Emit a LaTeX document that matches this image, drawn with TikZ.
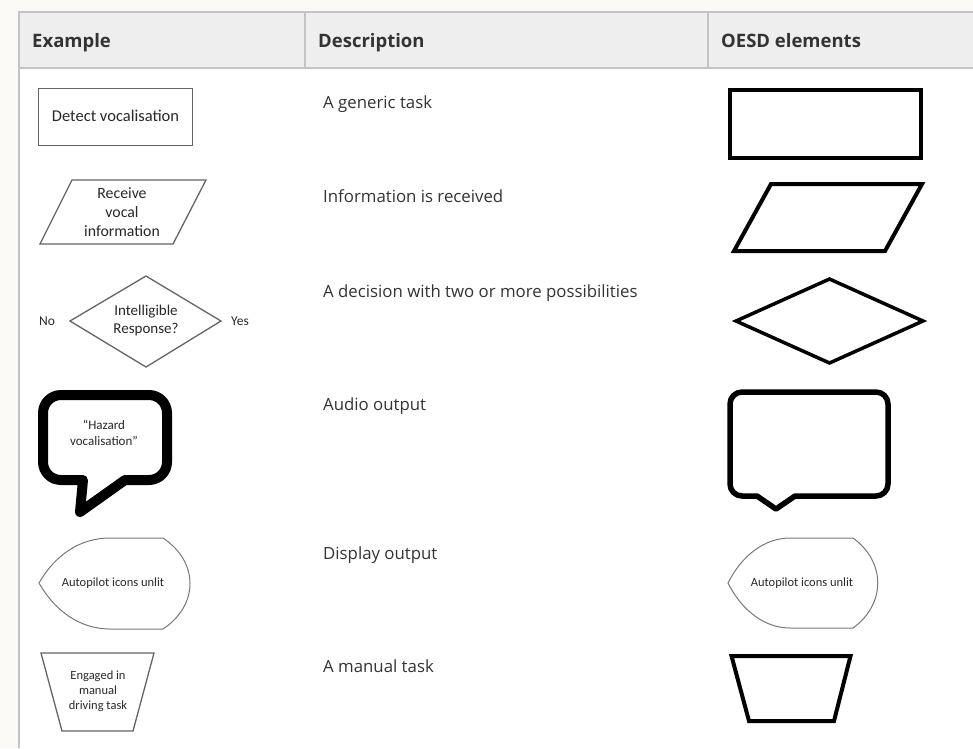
\documentclass[tikz,border=0pt]{standalone}
\usepackage{fontspec}
\setmainfont{Open Sans}
\newfontfamily\shapefont{Carlito}
\definecolor{pagebg}{RGB}{250,249,245}
\definecolor{headbg}{RGB}{238,238,238}
\definecolor{rule}{RGB}{196,196,196}
\definecolor{txt}{RGB}{51,51,51}
\definecolor{shapetxt}{RGB}{40,40,40}
\definecolor{egline}{RGB}{100,100,100}
\definecolor{displine}{RGB}{120,120,120}
\begin{document}
\begin{tikzpicture}[x=1pt,y=-1pt,
  head/.style={anchor=base west,inner sep=0,text=txt,font=\fontsize{18.5}{22}\selectfont\bfseries},
  desc/.style={anchor=base west,inner sep=0,text=txt,font=\fontsize{16.8}{20}\selectfont},
  egshape/.style={draw=egline,line width=1.3pt,line join=miter},
  egtext/.style={inner sep=0,text=shapetxt,align=center,font=\shapefont\fontsize{15.8}{19}\selectfont},
  smalltext/.style={inner sep=0,text=shapetxt,align=center,font=\shapefont\fontsize{12.5}{15}\selectfont},
  oesd/.style={draw=black,line width=4pt,line join=miter},
  bubble/.style={draw=black,line join=round},
  display/.style={draw=displine,line width=1pt}]
\useasboundingbox (0,0) rectangle (973,748);

% page and table frame
\fill[pagebg] (0,0) rectangle (973,748);
\fill[white] (19,12) rectangle (973,748);
\fill[headbg] (19,12) rectangle (973,68);
\draw[rule,line width=1.5pt] (973,12) -- (19,12) -- (19,748);
\draw[rule,line width=1.5pt] (19,68) -- (973,68);
\draw[rule,line width=1.5pt] (305,12) -- (305,68);
\draw[rule,line width=1.5pt] (708,12) -- (708,68);

% header
\node[head] (hex)  at (32,47)  {Example};
\node[head] (hdesc) at (318,47) {Description};
\node[head] (hoesd) at (721,47) {OESD elements};

% descriptions
\node[desc] (d1) at (323,108) {A generic task};
\node[desc] (d2) at (323,202) {Information is received};
\node[desc] (d3) at (323,297) {A decision with two or more possibilities};
\node[desc] (d4) at (323,410) {Audio output};
\node[desc] (d5) at (323,559) {Display output};
\node[desc] (d6) at (323,672) {A manual task};

% example column
\draw[egshape] (38.5,88.5) rectangle (192.5,145.5);
\node[egtext,font=\shapefont\fontsize{16.5}{19}\selectfont] (t1) at (115.5,116) {Detect vocalisation};

\draw[egshape] (72,180) -- (206,180) -- (173,244) -- (40,244) -- cycle;
\node[egtext] (t2) at (122,212) {Receive\\vocal\\information};

\draw[egshape] (70,321) -- (146,276) -- (221,321) -- (146,367) -- cycle;
\node[egtext,font=\shapefont\fontsize{15}{18}\selectfont] (t3) at (146,320) {Intelligible\\Response?};
\node[egtext,font=\shapefont\fontsize{13.5}{16}\selectfont] (no) at (47,321) {No};
\node[egtext,font=\shapefont\fontsize{13.5}{16}\selectfont] (yes) at (240,321) {Yes};

\draw[bubble,line width=10pt] (83,480) -- (61,480)
  arc[start angle=90,end angle=180,radius=18] -- (43,413)
  arc[start angle=180,end angle=270,radius=18] -- (149,395)
  arc[start angle=270,end angle=360,radius=18] -- (167,462)
  arc[start angle=0,end angle=90,radius=18] -- (125,480) -- (80,512) -- cycle;
\node[egtext,font=\shapefont\fontsize{13}{16}\selectfont] (t4) at (104,433) {“Hazard\\vocalisation”};

\draw[display] (39,583) .. controls (55,555) and (80,538) .. (110,538) -- (163,538)
  .. controls (199,562) and (199,605) .. (163,629) -- (110,629)
  .. controls (80,629) and (55,611) .. (39,583) -- cycle;
\node[smalltext] (t5) at (113,583) {Autopilot icons unlit};

\draw[egshape] (41,653) -- (154,653) -- (133,731) -- (62,731) -- cycle;
\node[smalltext] (t6) at (98,691) {Engaged in\\manual\\driving task};

% OESD column
\draw[oesd] (730,90) rectangle (921,158);
\draw[oesd] (771,184) -- (922,184) -- (885,251) -- (734,251) -- cycle;
\draw[oesd,line width=3.5pt] (736,321) -- (829.5,279) -- (923,321) -- (829.5,363) -- cycle;
\draw[bubble,line width=5.5pt] (757,496) -- (742,496)
  arc[start angle=90,end angle=180,radius=12] -- (730,404)
  arc[start angle=180,end angle=270,radius=12] -- (876,392)
  arc[start angle=270,end angle=360,radius=12] -- (888,484)
  arc[start angle=0,end angle=90,radius=12] -- (795,496) -- (776,509) -- cycle;
\draw[display] (728,583) .. controls (742,555) and (765,538) .. (790,538) -- (853,538)
  .. controls (886,562) and (886,604) .. (853,628) -- (790,628)
  .. controls (765,628) and (742,611) .. (728,583) -- cycle;
\node[smalltext] (t7) at (802,583) {Autopilot icons unlit};
\draw[oesd] (731.5,656) -- (850.5,656) -- (834,721) -- (749,721) -- cycle;
\end{tikzpicture}
\end{document}
